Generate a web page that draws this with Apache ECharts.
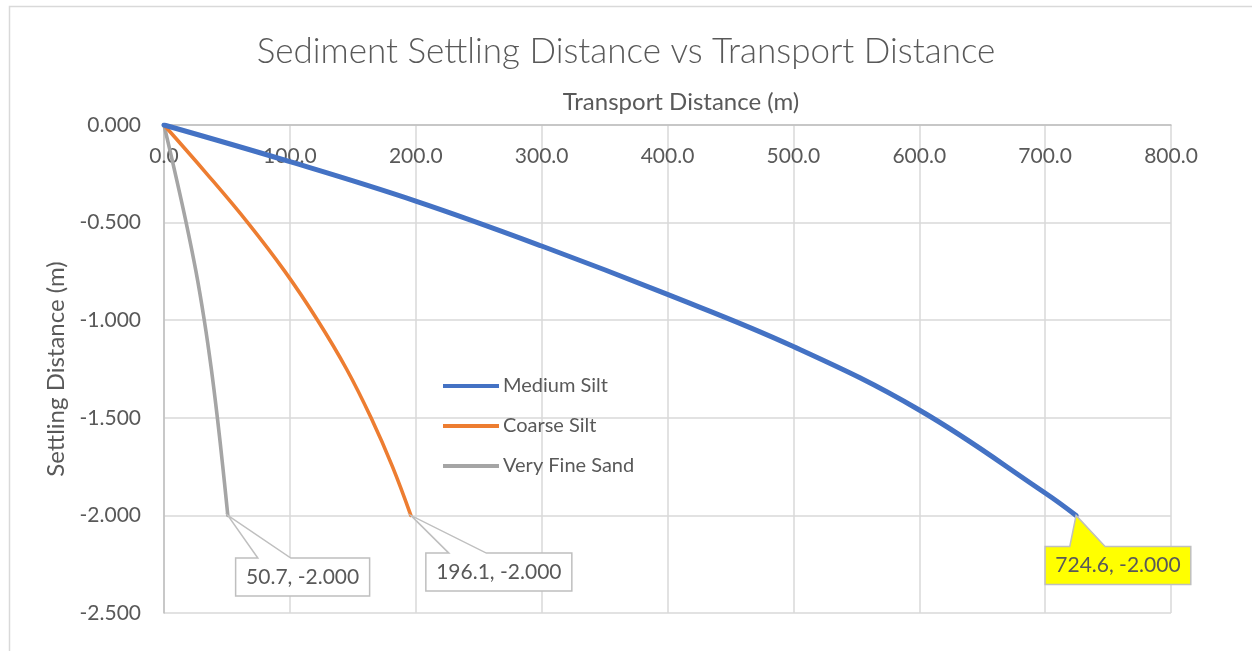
<!DOCTYPE html>
<html>
<head>
<meta charset="utf-8">
<script src="https://cdn.jsdelivr.net/npm/echarts@6/dist/echarts.min.js"></script>
<style>
html,body{margin:0;padding:0;background:#fff;}
#chart{width:1252px;height:651px;}
</style>
</head>
<body>
<div id="chart"></div>
<script>
// ---- Data ----
const seriesNames = ['Medium Silt', 'Coarse Silt', 'Very Fine Sand'];
const transportMediumSilt = [0, 100, 200, 300, 400, 500, 600, 700, 724.6];
const settlingMediumSilt  = [0, -0.188, -0.39, -0.62, -0.868, -1.135, -1.46, -1.885, -2.0];
const settlingLevels      = [0, -0.25, -0.5, -0.75, -1.0, -1.25, -1.5, -1.75, -2.0];
const transportCoarseSilt = [0, 34, 66.5, 96, 122, 145, 164.5, 181.5, 196.1];
const transportFineSand   = [0, 9, 17.6, 25.4, 32, 37.6, 42.4, 46.7, 50.7];
const xTicks = [0, 800, 100];      // min, max, interval
const yTicks = [-2.5, 0, 0.5];     // min, max, interval

const colors = ['#4472C4', '#ED7D31', '#A5A5A5'];
const txt = '#595959';
const FONT = 'Lato';

function pairs(xs, ys) { return xs.map((x, i) => [x, ys[i]]); }
const dataSets = [
  pairs(transportMediumSilt, settlingMediumSilt),
  pairs(transportCoarseSilt, settlingLevels),
  pairs(transportFineSand, settlingLevels)
];

const chart = echarts.init(document.getElementById('chart'), null, {renderer: 'canvas'});

const option = {
  animation: false,
  backgroundColor: '#ffffff',
  color: colors,
  title: {
    text: 'Sediment Settling Distance vs Transport Distance',
    left: 'center',
    top: 29,
    textStyle: {fontFamily: FONT, fontSize: 35, fontWeight: 300, color: txt}
  },
  grid: {left: 164, right: 81, top: 125, bottom: 38, containLabel: false},
  legend: {
    orient: 'vertical',
    left: 438,
    top: 371,
    itemWidth: 56,
    itemHeight: 4,
    itemGap: 20,
    icon: 'rect',
    textStyle: {fontFamily: FONT, fontSize: 20, color: txt, lineHeight: 20, padding: [0, 0, 0, -1]},
    data: seriesNames
  },
  xAxis: {
    type: 'value',
    position: 'top',
    min: xTicks[0], max: xTicks[1], interval: xTicks[2],
    name: 'Transport Distance (m)',
    nameLocation: 'middle',
    nameGap: 11,
    nameTextStyle: {fontFamily: FONT, fontSize: 24, color: txt, padding: [0, 0, 0, 27], verticalAlign: 'bottom'},
    axisLine: {show: true, lineStyle: {color: '#bfbfbf', width: 1.5}},
    axisTick: {show: false},
    splitLine: {show: true, lineStyle: {color: '#d9d9d9', width: 1.5}},
    axisLabel: {
      inside: true, margin: 21,
      fontFamily: FONT, fontSize: 21, color: txt,
      formatter: v => v.toFixed(1)
    }
  },
  yAxis: {
    type: 'value',
    min: yTicks[0], max: yTicks[1], interval: yTicks[2],
    name: 'Settling Distance (m)',
    nameLocation: 'middle',
    nameGap: 96,
    nameTextStyle: {fontFamily: FONT, fontSize: 24, color: txt},
    axisLine: {show: true, lineStyle: {color: '#bfbfbf', width: 1.5}},
    axisTick: {show: false},
    splitLine: {show: true, lineStyle: {color: '#d9d9d9', width: 1.5}},
    axisLabel: {
      margin: 23,
      fontFamily: FONT, fontSize: 21, color: txt,
      formatter: v => v.toFixed(3)
    }
  },
  series: seriesNames.map((n, i) => ({
    name: n,
    type: 'line',
    data: dataSets[i],
    smooth: 0.4,
    showSymbol: false,
    symbol: 'none',
    lineStyle: {width: i === 0 ? 5 : 3.6, color: colors[i], cap: 'round'},
    z: 3 - i
  }))
};
chart.setOption(option);

// ---- Callout labels anchored on each series' last point ----
// offsets relative to anchor: box [left, right, top, bottom], wedge base [x1, x2]
const calloutStyles = [
  {box: [-31, 114.7, 31, 69], wedge: [-6.3, 29], fill: '#ffff00'},
  {box: [15, 161, 37.7, 75.7], wedge: [38, 75.5], fill: '#ffffff'},
  {box: [7.8, 141.8, 42.7, 80.7], wedge: [30, 63], fill: '#ffffff'}
];
const graphics = [
  {type: 'rect', left: 7, top: 4, silent: true,
   shape: {x: 0, y: 0, width: 1260, height: 660},
   style: {fill: 'none', stroke: '#d9d9d9', lineWidth: 1.5}, z: 0}
];
dataSets.forEach((ds, i) => {
  const last = ds[ds.length - 1];
  const p = chart.convertToPixel({seriesIndex: i}, last);
  const s = calloutStyles[i];
  const L = p[0] + s.box[0], R = p[0] + s.box[1], T = p[1] + s.box[2], B = p[1] + s.box[3];
  const pts = [[L, T], [p[0] + s.wedge[0], T], [p[0], p[1]], [p[0] + s.wedge[1], T], [R, T], [R, B], [L, B]];
  graphics.push({
    type: 'polygon', silent: true, z: 10,
    shape: {points: pts},
    style: {fill: s.fill, stroke: '#bfbfbf', lineWidth: 1.5}
  });
  graphics.push({
    type: 'text', silent: true, z: 11,
    x: (L + R) / 2, y: (T + B) / 2,
    style: {
      text: last[0].toFixed(1) + ', ' + last[1].toFixed(3),
      fontFamily: FONT, fontSize: 21, fill: txt,
      align: 'center', verticalAlign: 'middle'
    }
  });
});
chart.setOption({graphic: graphics});
</script>
</body>
</html>
